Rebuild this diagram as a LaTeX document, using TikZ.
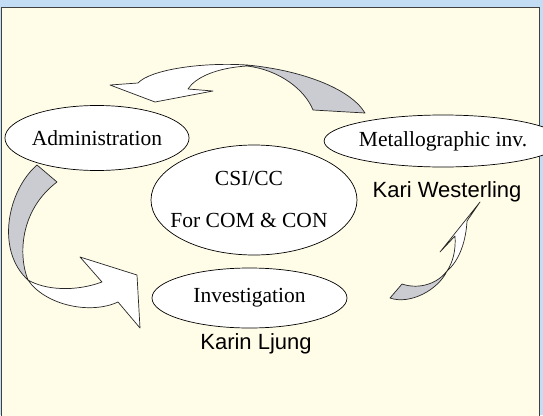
\documentclass[tikz,border=0pt]{standalone}
\usepackage{fontspec}
\setmainfont{Liberation Serif}
\newfontfamily\namefont{Liberation Sans}
\usetikzlibrary{shapes.geometric}
\definecolor{fundo}{RGB}{195,222,244}
\definecolor{papel}{RGB}{255,252,231}
\definecolor{cinza}{RGB}{203,204,210}
\tikzset{
	stage/.style={ellipse, draw=black, line width=0.7pt, fill=white, inner sep=0pt,
		font=\fontsize{21.5}{26}\selectfont},
	person/.style={inner sep=0pt, font=\namefont\fontsize{22}{26}\selectfont},
	band/.style={draw=black!85, line width=0.7pt, line join=round}
}
\begin{document}
\begin{tikzpicture}[x=1pt,y=-1pt]
\useasboundingbox (0,0) rectangle (543,415);

% fundo
	\fill[fundo] (0,0) rectangle (543,415);
	\filldraw[fill=papel, draw=black!75, line width=1pt] (1.5,7) rectangle (539.5,416);

% seta de cima
	\filldraw[band, fill=cinza] (247,65) .. controls (300,70) and (350,88) .. (365,113)
		-- (313,110) .. controls (305,90) and (280,70) .. (247,66) -- cycle;
	\filldraw[band, fill=white] (247,65) .. controls (200,62) and (150,70) .. (138,83)
		-- (110,85) -- (155,102) -- (213,91) -- (188,89)
		.. controls (195,78) and (215,68) .. (247,66) -- cycle;

% seta da esquerda
	\filldraw[band, fill=cinza] (37,165) .. controls (8,190) and (-5,250) .. (28,280)
		.. controls (18,255) and (20,210) .. (57,182) -- cycle;
	\filldraw[band, fill=white] (28,280) .. controls (45,305) and (90,315) .. (118,302)
		-- (140,328) -- (137,275) -- (80,257) -- (102,282)
		.. controls (75,292) and (45,290) .. (28,280) -- cycle;

% seta da direita
	\filldraw[band, fill=cinza] (390,298) -- (402,284) .. controls (420,290) and (438,283) .. (447,271)
		.. controls (438,290) and (410,305) .. (390,298) -- cycle;
	\filldraw[band, fill=white] (447,271) .. controls (460,260) and (466,240) .. (467,221)
		-- (480,202) -- (440,252) -- (455,236)
		.. controls (456,250) and (453,262) .. (447,271) -- cycle;

% elipses
	\node[stage, minimum width=173pt, minimum height=65pt] (adm) at (97,138) {Administration};
	\node[stage, minimum width=206pt, minimum height=110pt] (csi) at (254,200) {};
	\node[align=center, inner sep=0pt, font=\fontsize{21.5}{26}\selectfont] (csitxt)
		at (249,199) {CSI/CC\\[16pt]For COM \& CON};
	\node[stage, minimum width=193pt, minimum height=52pt] (met) at (443,141) {Metallographic inv.};
	\node[stage, minimum width=195pt, minimum height=60pt] (inv) at (249.5,298) {Investigation};

% nomes
	\node[person] (kw) at (447,192) {Kari Westerling};
	\node[person] (kl) at (256,344) {Karin Ljung};
\end{tikzpicture}
\end{document}
